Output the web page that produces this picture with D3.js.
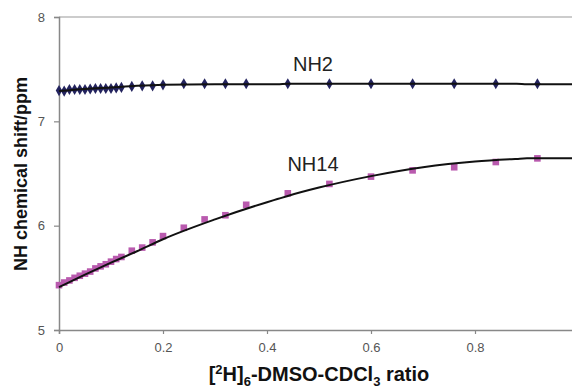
<!DOCTYPE html>
<html>
<head>
<meta charset="utf-8">
<script src="https://cdn.jsdelivr.net/npm/d3@7"></script>
<style>
  body { margin: 0; background: #fff; }
  text { font-family: Arial, "Liberation Sans", sans-serif; }
</style>
</head>
<body>
<svg id="chart" width="572" height="388"></svg>
<script>
// titration points (ratio of DMSO)
const ratio = [0, 0.01, 0.02, 0.03, 0.04, 0.05, 0.06, 0.07, 0.08, 0.09, 0.1, 0.11, 0.12,
  0.14, 0.16, 0.18, 0.2, 0.24, 0.28, 0.32, 0.36, 0.44, 0.52, 0.6, 0.68, 0.76, 0.84, 0.92];
const nh2 = [7.295, 7.29, 7.305, 7.305, 7.305, 7.305, 7.31, 7.315, 7.315, 7.315, 7.315, 7.32, 7.325,
  7.335, 7.34, 7.34, 7.35, 7.36, 7.36, 7.36, 7.36, 7.36, 7.36, 7.36, 7.36, 7.36, 7.36, 7.36];
const nh14 = [5.43, 5.455, 5.475, 5.5, 5.52, 5.54, 5.56, 5.59, 5.61, 5.63, 5.655, 5.68, 5.7,
  5.76, 5.79, 5.84, 5.9, 5.98, 6.06, 6.1, 6.2, 6.31, 6.4, 6.47, 6.53, 6.56, 6.61, 6.645];

// fitted curves
const fitX = [0, 0.05, 0.1, 0.15, 0.2, 0.3, 0.4, 0.42, 0.44, 0.5, 0.6, 0.7, 0.8, 0.88, 0.9, 1.0];
const fitNH2 = [7.29, 7.31, 7.325, 7.34, 7.35, 7.355, 7.355, 7.355, 7.36, 7.36, 7.36, 7.36, 7.36, 7.36, 7.355, 7.355];
const fitNH14 = [5.41, 5.53, 5.645, 5.755, 5.87, 6.06, 6.225, 6.255, 6.285, 6.365, 6.475, 6.56, 6.615, 6.64, 6.645, 6.645];

const yTicks = [5, 6, 7, 8];
const xTicks = [0, 0.2, 0.4, 0.6, 0.8];

const svg = d3.select('#chart');
const x = d3.scaleLinear().domain([0, 1]).range([59, 579]);
const y = d3.scaleLinear().domain([5, 8]).range([330, 17]);

// top border
svg.append('line')
  .attr('x1', x(0)).attr('x2', 572)
  .attr('y1', y(8)).attr('y2', y(8))
  .attr('stroke', '#999').attr('stroke-width', 1.2);

const xAxis = svg.append('g')
  .attr('transform', `translate(0,${y(5)})`)
  .call(d3.axisBottom(x).tickValues(xTicks).tickFormat(d3.format('')).tickSize(4).tickPadding(9));
const yAxis = svg.append('g')
  .attr('transform', `translate(${x(0)},0)`)
  .call(d3.axisLeft(y).tickValues(yTicks).tickFormat(d3.format('d')).tickSize(5).tickPadding(9));

[xAxis, yAxis].forEach(g => {
  g.select('.domain').attr('stroke', '#888').attr('stroke-width', 1.5);
  g.selectAll('.tick line').attr('stroke', '#888').attr('stroke-width', 1.2);
  g.selectAll('.tick text').attr('fill', '#555').style('font-size', '13px')
    .style('font-family', 'Arial, "Liberation Sans", sans-serif');
});

const line = d3.line().x(d => x(d[0])).y(d => y(d[1])).curve(d3.curveMonotoneX);

// NH2 markers (diamonds)
svg.append('g').selectAll('path')
  .data(d3.zip(ratio, nh2))
  .enter().append('path')
  .attr('d', d3.symbol(d3.symbolDiamond, 36))
  .attr('transform', d => `translate(${x(d[0])},${y(d[1])})`)
  .attr('fill', '#23235e');

// NH14 markers (squares)
svg.append('g').selectAll('rect')
  .data(d3.zip(ratio, nh14))
  .enter().append('rect')
  .attr('x', d => x(d[0]) - 3.3)
  .attr('y', d => y(d[1]) - 3.3)
  .attr('width', 6.6).attr('height', 6.6)
  .attr('fill', '#b95aae');

svg.append('path')
  .datum(d3.zip(fitX, fitNH2))
  .attr('d', line)
  .attr('fill', 'none').attr('stroke', '#111').attr('stroke-width', 2);
svg.append('path')
  .datum(d3.zip(fitX, fitNH14))
  .attr('d', line)
  .attr('fill', 'none').attr('stroke', '#111').attr('stroke-width', 2);

// series labels
svg.append('text').attr('x', 313).attr('y', 71).attr('text-anchor', 'middle')
  .style('font-size', '20px').attr('fill', '#222').text('NH2');
svg.append('text').attr('x', 313).attr('y', 171).attr('text-anchor', 'middle')
  .style('font-size', '20px').attr('fill', '#222').text('NH14');

// axis titles
svg.append('text')
  .attr('transform', 'translate(27,174) rotate(-90)')
  .attr('text-anchor', 'middle')
  .style('font-size', '18px').style('font-weight', 'bold').attr('fill', '#111')
  .text('NH chemical shift/ppm');

const xt = svg.append('text')
  .attr('x', 319).attr('y', 381).attr('text-anchor', 'middle')
  .style('font-size', '20px').style('font-weight', 'bold').attr('fill', '#111');
xt.append('tspan').text('[');
xt.append('tspan').attr('dy', -7).style('font-size', '13px').text('2');
xt.append('tspan').attr('dy', 7).text('H]');
xt.append('tspan').attr('dy', 5).style('font-size', '13px').text('6');
xt.append('tspan').attr('dy', -5).text('-DMSO-CDCl');
xt.append('tspan').attr('dy', 5).style('font-size', '13px').text('3');
xt.append('tspan').attr('dy', -5).text(' ratio');
</script>
</body>
</html>
